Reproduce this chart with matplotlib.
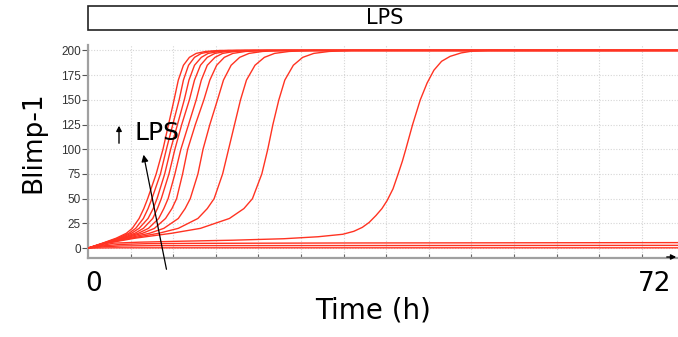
import matplotlib
matplotlib.use("Agg")
import matplotlib.pyplot as plt
from matplotlib.patches import Rectangle, FancyArrowPatch

# ---- data -------------------------------------------------------------
# Blimp-1 levels at which the switching trajectories are sampled
levels = [0, 5, 10, 15, 20, 30, 40, 50, 75, 100, 125, 150, 170, 185,
          193, 197, 199, 200]

# time (h) at which each switching trajectory reaches the levels above
switch_times = [
    [0, 1.7, 3.3, 4.5, 5.2, 6.0, 6.55, 7.0, 8.0, 8.8, 9.45, 10.1, 10.6, 11.2, 11.9, 12.7, 13.8, 15.5],
    [0, 1.8, 3.5, 4.8, 5.6, 6.5, 7.05, 7.5, 8.5, 9.2, 9.95, 10.7, 11.2, 11.8, 12.5, 13.3, 14.5, 16.5],
    [0, 1.8, 3.7, 5.1, 6.0, 7.05, 7.65, 8.1, 9.0, 9.7, 10.5, 11.3, 11.85, 12.5, 13.3, 14.1, 15.4, 17.5],
    [0, 1.9, 3.9, 5.5, 6.5, 7.6, 8.15, 8.6, 9.5, 10.2, 11.0, 11.9, 12.5, 13.2, 14.0, 14.9, 16.2, 18.5],
    [0, 1.9, 4.1, 5.9, 7.1, 8.3, 8.9, 9.4, 10.2, 10.9, 11.8, 12.7, 13.3, 14.0, 14.9, 15.8, 17.2, 19.5],
    [0, 2.0, 4.3, 6.4, 7.8, 9.1, 9.85, 10.4, 11.1, 11.7, 12.6, 13.6, 14.3, 15.1, 16.0, 17.0, 18.5, 21.0],
    [0, 2.0, 4.6, 7.2, 8.9, 10.6, 11.4, 12.0, 12.9, 13.5, 14.3, 15.2, 15.9, 16.8, 17.8, 18.9, 20.5, 23.0],
    [0, 2.1, 5.0, 8.3, 10.6, 12.9, 14.0, 14.8, 15.8, 16.5, 17.2, 17.9, 18.6, 19.6, 20.7, 21.9, 23.6, 26.5],
    [0, 2.2, 5.5, 9.8, 13.2, 16.6, 18.3, 19.3, 20.4, 21.1, 21.7, 22.4, 23.1, 24.1, 25.2, 26.5, 28.3, 31.0],
]

# late switching trajectory
late_t = [0, 3.0, 6.0, 11.0, 17.0, 23.0, 27.0, 29.9, 31.2, 32.2, 33.0, 33.8,
          34.5, 35.1, 35.8, 36.4, 36.9, 37.3, 38.1, 39.0, 39.8, 40.6, 41.5,
          42.5, 43.8, 45.0, 47.0]
late_v = [0, 5.0, 6.0, 7.0, 8.0, 9.5, 11.5, 14.0, 17.0, 21.0, 26.0, 33.0,
          40.0, 48.0, 60.0, 75.0, 88.0, 100.0, 125.0, 150.0, 167.0, 180.0,
          189.0, 194.0, 197.5, 199.2, 200.0]

# trajectories that never switch
low_t = [[0, 2, 4, 7, 12, 30, 72],
         [0, 2, 4, 8, 72],
         [0, 3, 72]]
low_v = [[0, 2.5, 3.8, 4.5, 4.8, 5.2, 5.6],
         [0, 1.5, 2.2, 2.5, 2.8],
         [0, 0.3, 0.3]]

t_end = 72
y_ticks = [0, 25, 50, 75, 100, 125, 150, 175, 200]
x_ticks = [5, 10, 15, 20, 25, 30, 35, 40, 45, 50, 55, 60, 65]

# ---- figure -----------------------------------------------------------
W, H = 678, 337
fig = plt.figure(figsize=(W / 100, H / 100), dpi=100)


def fx(px):
    return px / W


def fy(py):
    return 1 - py / H


ax = fig.add_axes([fx(88), fy(258), fx(678) - fx(88), fy(45) - fy(258)])

red = "#ff3322"
lw = 1.0
for times in switch_times:
    ax.plot(times + [t_end], levels + [200], color=red, lw=lw, zorder=3)
ax.plot(late_t + [t_end], late_v + [200], color=red, lw=lw, zorder=3)
for tt, vv in zip(low_t, low_v):
    ax.plot(tt, vv, color=red, lw=lw, zorder=3)

ax.set_xlim(0, 69.25)
ax.set_ylim(-10, 205.5)

ax.set_yticks(y_ticks)
ax.set_yticklabels([str(v) for v in y_ticks], fontsize=8.5,
                   family="Liberation Sans", color="#333333")
ax.set_xticks(x_ticks)
ax.set_xticklabels([])
ax.tick_params(axis="y", direction="out", length=4, width=0.8,
               color="#555555", pad=1)
ax.tick_params(axis="x", direction="in", length=3, width=0.8,
               color="#666666")
ax.grid(True, linestyle=(0, (1, 1.5)), color="#d6d6d6", lw=0.8, zorder=0)
ax.set_axisbelow(True)

for side in ("top", "right"):
    ax.spines[side].set_visible(False)
for side in ("left", "bottom"):
    ax.spines[side].set_color("#a0a0a0")
    ax.spines[side].set_linewidth(1.6)

# stimulus bar across the top
fig.patches.append(Rectangle((fx(88), fy(30)), 1.02 - fx(88), fy(6) - fy(30),
                             transform=fig.transFigure, facecolor="white",
                             edgecolor="#222222", lw=1.2))
fig.text(fx(385), fy(18), "LPS", fontsize=15, ha="center", va="center",
         family="DejaVu Sans")

# axis titles and end labels
fig.text(fx(33), fy(142), "Blimp-1", fontsize=19, rotation=90,
         ha="center", va="center", family="DejaVu Sans")
fig.text(fx(373), fy(311), "Time (h)", fontsize=20, ha="center",
         va="center", family="DejaVu Sans")
fig.text(fx(94), fy(284), "0", fontsize=19, ha="center", va="center",
         family="DejaVu Sans")
fig.text(fx(655), fy(284), "72", fontsize=19, ha="center", va="center",
         family="DejaVu Sans")

# LPS increase annotation
fig.text(fx(157), fy(133), "LPS", fontsize=18, ha="center", va="center",
         family="DejaVu Sans")
fig.patches.append(FancyArrowPatch((fx(119), fy(146)), (fx(119), fy(123)),
                                   transform=fig.transFigure,
                                   arrowstyle="-|>,head_length=3,head_width=1.6",
                                   color="black", lw=1.0))
fig.patches.append(FancyArrowPatch((fx(167), fy(272)), (fx(143), fy(152)),
                                   transform=fig.transFigure,
                                   arrowstyle="-|>,head_length=4,head_width=2",
                                   color="black", lw=0.9))
fig.patches.append(FancyArrowPatch((fx(664), fy(257)), (fx(679), fy(257)),
                                   transform=fig.transFigure,
                                   arrowstyle="-|>,head_length=3,head_width=1.5",
                                   color="black", lw=1.0))

fig.savefig("out.png", dpi=100)
